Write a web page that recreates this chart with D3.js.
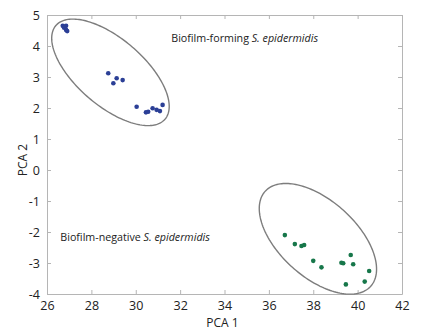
<!DOCTYPE html>
<html><head><meta charset="utf-8">
<script src="https://cdn.jsdelivr.net/npm/d3@7"></script>
<style>
body{margin:0;background:#fff;}
text{font-family:"Open Sans",sans-serif;fill:#222;}
</style></head><body>
<svg id="c" width="422" height="331"></svg>
<script>
// data (PCA 1, PCA 2)
const formingX = [26.71,26.86,26.77,26.86,26.91,28.76,29.14,28.99,29.41,30.04,30.46,30.56,30.76,30.94,31.09,31.21];
const formingY = [4.65,4.65,4.59,4.52,4.48,3.12,2.96,2.80,2.90,2.04,1.86,1.88,1.99,1.94,1.90,2.10];
const negativeX = [36.72,37.17,37.47,37.59,38.00,38.37,39.27,39.35,39.69,39.80,39.47,40.32,40.52];
const negativeY = [-2.10,-2.39,-2.45,-2.42,-2.93,-3.14,-2.99,-3.01,-2.74,-3.04,-3.69,-3.60,-3.26];
// ellipses: center, semi-axis vectors (data units)
const ellipseCenters = [[28.86,3.15],[38.21,-2.22]];
const ellipseAxisA = [[2.46,-1.51],[2.38,-1.53]];
const ellipseAxisB = [[-0.98,-0.82],[-1.15,-0.92]];
const xTicks = [26,28,30,32,34,36,38,40,42];
const yTicks = [-4,-3,-2,-1,0,1,2,3,4,5];
const labels = ["Biofilm-forming ","Biofilm-negative "];
const labelPos = [[31.6,4.12],[26.6,-2.3]];

const svg = d3.select("#c");
const L=47,R=402,T=15,B=294;
const x = d3.scaleLinear().domain([26,42]).range([L,R]);
const y = d3.scaleLinear().domain([-4,5]).range([B,T]);
const fmt = d=>String(d);

const frame="#b5b5b5";
// axes with inward ticks
const gx = svg.append("g").attr("transform",`translate(0,${B})`)
  .call(d3.axisBottom(x).tickValues(xTicks).tickFormat(fmt).tickSizeInner(-4).tickSizeOuter(0).tickPadding(7));
const gxt = svg.append("g").attr("transform",`translate(0,${T})`)
  .call(d3.axisTop(x).tickValues(xTicks).tickSizeInner(-4).tickSizeOuter(0).tickFormat(""));
const gy = svg.append("g").attr("transform",`translate(${L},0)`)
  .call(d3.axisLeft(y).tickValues(yTicks).tickFormat(fmt).tickSizeInner(-4).tickSizeOuter(0).tickPadding(7));
const gyr = svg.append("g").attr("transform",`translate(${R},0)`)
  .call(d3.axisRight(y).tickValues(yTicks).tickSizeInner(-4).tickSizeOuter(0).tickFormat(""));
[gx,gxt,gy,gyr].forEach(g=>{
  g.selectAll("path,line").attr("stroke",frame);
  g.selectAll("text").style("font-family",'"Open Sans",sans-serif').style("font-size","12.5px").attr("fill","#222");
});

// ellipses
const line = d3.line().x(d=>x(d[0])).y(d=>y(d[1]));
ellipseCenters.forEach((c,i)=>{
  const a=ellipseAxisA[i], b=ellipseAxisB[i];
  const pts = d3.range(0,181).map(k=>{const t=k/180*2*Math.PI;
    return [c[0]+a[0]*Math.cos(t)+b[0]*Math.sin(t), c[1]+a[1]*Math.cos(t)+b[1]*Math.sin(t)];});
  svg.append("path").attr("d",line(pts)+"Z").attr("fill","none").attr("stroke","#7d7d7d").attr("stroke-width",1.4);
});

// points
svg.append("g").selectAll("circle").data(formingX).join("circle")
  .attr("cx",(d)=>x(d)).attr("cy",(d,i)=>y(formingY[i])).attr("r",2.3).attr("fill","#2b3f96");
svg.append("g").selectAll("circle").data(negativeX).join("circle")
  .attr("cx",(d)=>x(d)).attr("cy",(d,i)=>y(negativeY[i])).attr("r",2.3).attr("fill","#17774a");

// annotations
labels.forEach((s,i)=>{
  const t = svg.append("text").attr("x",x(labelPos[i][0])).attr("y",y(labelPos[i][1])).style("font-size","10.7px");
  t.append("tspan").text(s);
  t.append("tspan").text("S. ").style("font-style","italic");
  t.append("tspan").text("epidermidis").style("font-style","italic");
});

// axis titles
svg.append("text").attr("x",(L+R)/2 - 2).attr("y",327).attr("text-anchor","middle").style("font-size","12px").text("PCA 1");
svg.append("text").attr("transform","translate(27,160) rotate(-90)").attr("text-anchor","middle").style("font-size","12px").text("PCA 2");
</script></body></html>
